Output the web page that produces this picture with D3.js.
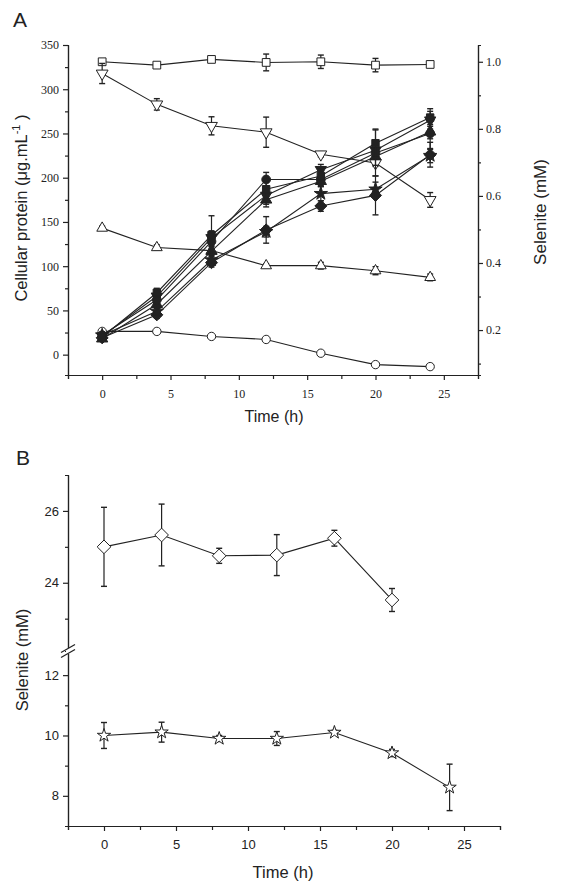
<!DOCTYPE html>
<html><head><meta charset="utf-8">
<script src="https://cdn.jsdelivr.net/npm/d3@7"></script>
<style>body{margin:0;background:#fff}svg{display:block}</style>
</head><body><svg id="c" width="567" height="883"></svg>
<script>
// ---------- DATA ----------
const timesA = [0, 4, 8, 12, 16, 20, 24];
// Selenite (mM), right axis, open symbols
const selSquare = [1.0, 0.99, 1.007, 0.998, 1.0, 0.99, 0.992];
const selSquareErr = [0.008, 0.005, 0.004, 0.025, 0.02, 0.02, 0.006];
const selDownTri = [0.965, 0.873, 0.809, 0.79, 0.724, 0.698, 0.588];
const selDownTriErr = [0.03, 0.017, 0.027, 0.045, 0.008, 0.01, 0.022];
const selUpTri = [0.504, 0.446, 0.437, 0.392, 0.392, 0.377, 0.357];
const selUpTriErr = [0.006, 0.008, 0.005, 0.006, 0.01, 0.012, 0.01];
const selCircle = [0.196, 0.196, 0.181, 0.172, 0.131, 0.097, 0.091];
const selCircleErr = [0.004, 0.004, 0.004, 0.004, 0.004, 0.004, 0.003];
// Cellular protein (ug/mL), left axis, filled symbols
const protSquare = [20, 70, 135, 187, 202, 239, 268];
const protSquareErr = [3, 5, 22, 8, 8, 16, 10];
const protDownTri = [21, 66, 132, 180, 209, 231, 265];
const protDownTriErr = [3, 6, 8, 10, 6, 8, 10];
const protUpTri = [18, 57, 117, 175, 196, 224, 252];
const protUpTriErr = [3, 5, 6, 8, 6, 10, 8];
const protCircle = [22, 62, 128, 198, 198, 228, 250];
const protCircleErr = [3, 5, 6, 8, 7, 26, 18];
const protDiamond = [19, 45, 104, 141, 168, 180, 226];
const protDiamondErr = [3, 4, 5, 15, 6, 22, 14];
const protStar = [22, 49, 107, 139, 182, 187, 225];
const protStarErr = [3, 4, 5, 6, 8, 8, 8];
// Panel B
const timesB = [0, 4, 8, 12, 16, 20, 24];
const selHighDiamond = [25.0, 25.33, 24.75, 24.77, 25.24, 23.52];
const selHighDiamondErr = [1.1, 0.86, 0.21, 0.57, 0.22, 0.32];
const selMidStar = [10.0, 10.11, 9.9, 9.9, 10.1, 9.42, 8.28];
const selMidStarErr = [0.43, 0.33, 0.1, 0.23, 0.07, 0.12, 0.77];
// tick labels
const xTicks = [0, 5, 10, 15, 20, 25];
const yLeftTicks = [0, 50, 100, 150, 200, 250, 300, 350];
const yRightTicks = [0.2, 0.4, 0.6, 0.8, 1.0];
const yBUpperTicks = [24, 26];
const yBLowerTicks = [8, 10, 12];

// ---------- DRAW ----------
const svg = d3.select('#c');
const ink = '#222';
const SANS = 'Liberation Sans, Arial, sans-serif';
const SERIF = 'Liberation Serif, Times New Roman, serif';

function symbolPath(type, size) {
  if (type === 'diamond') {
    const h = Math.sqrt(size) * 0.72;
    return `M0,${-h}L${h},0L0,${h}L${-h},0Z`;
  }
  const map = {square: d3.symbolSquare, circle: d3.symbolCircle, up: d3.symbolTriangle,
    down: d3.symbolTriangle, star: d3.symbolStar};
  return d3.symbol().type(map[type]).size(size)();
}

function drawSeries(g, x, y, times, vals, errs, type, filled, size) {
  const pts = vals.map((v, i) => ({t: times[i], v, e: errs[i]}));
  g.append('path').datum(pts)
    .attr('d', d3.line().x(d => x(d.t)).y(d => y(d.v)))
    .attr('fill', 'none').attr('stroke', ink).attr('stroke-width', 1.1);
  const eb = g.append('g');
  pts.forEach(d => {
    const y1 = y(d.v + d.e), y2 = y(d.v - d.e), cx = x(d.t);
    eb.append('line').attr('x1', cx).attr('x2', cx).attr('y1', y1).attr('y2', y2)
      .attr('stroke', ink).attr('stroke-width', 1.2);
    [y1, y2].forEach(yy => eb.append('line').attr('x1', cx - 3).attr('x2', cx + 3)
      .attr('y1', yy).attr('y2', yy).attr('stroke', ink).attr('stroke-width', 1.4));
  });
  g.append('g').selectAll('path').data(pts).join('path')
    .attr('d', symbolPath(type, size))
    .attr('transform', d => `translate(${x(d.t)},${y(d.v)})` + (type === 'down' ? ' rotate(180)' : ''))
    .attr('fill', filled ? ink : '#fff').attr('stroke', ink).attr('stroke-width', 1);
}

// ===== Panel A =====
const A = {l: 68, r: 478, t: 45, b: 375};
const xA = d3.scaleLinear().domain([-2.5, 27.5]).range([A.l, A.r]);
const yL = d3.scaleLinear().domain([-23, 350]).range([A.b, A.t]);
const yR = d3.scaleLinear().domain([0.066, 1.05]).range([A.b, A.t]);

const gA = svg.append('g');
const axA = gA.append('g').attr('transform', `translate(0,${A.b})`)
  .call(d3.axisBottom(xA).tickValues(xTicks).tickSize(5).tickSizeOuter(0).tickPadding(9).tickFormat(d3.format('d')));
axA.append('g').call(d3.axisBottom(xA).tickValues(d3.range(-2.5, 28, 2.5).filter(v => v % 5 !== 0)).tickSize(4).tickFormat(''));
const alA = gA.append('g').attr('transform', `translate(${A.l},0)`)
  .call(d3.axisLeft(yL).tickValues(yLeftTicks).tickSize(5).tickSizeOuter(0).tickPadding(4).tickFormat(d3.format('d')));
alA.append('g').call(d3.axisLeft(yL).tickValues(d3.range(25, 350, 50)).tickSize(3).tickFormat(''));
const arA = gA.append('g').attr('transform', `translate(${A.r},0)`)
  .call(d3.axisRight(yR).tickValues(yRightTicks).tickSize(5).tickSizeOuter(0).tickPadding(3).tickFormat(d3.format('.1f')));
arA.append('g').call(d3.axisRight(yR).tickValues([0.1, 0.3, 0.5, 0.7, 0.9]).tickSize(3).tickFormat(''));
[axA, alA, arA].forEach(a => {
  a.selectAll('path,line').attr('stroke', ink).attr('stroke-width', 1.2);
  a.selectAll('text').attr('font-family', SERIF).attr('font-size', 12).attr('fill', ink);
});

drawSeries(gA, xA, yR, timesA, selSquare, selSquareErr, 'square', false, 60);
drawSeries(gA, xA, yR, timesA, selDownTri, selDownTriErr, 'down', false, 60);
drawSeries(gA, xA, yR, timesA, selUpTri, selUpTriErr, 'up', false, 50);
drawSeries(gA, xA, yR, timesA, selCircle, selCircleErr, 'circle', false, 55);
drawSeries(gA, xA, yL, timesA, protDiamond, protDiamondErr, 'diamond', true, 70);
drawSeries(gA, xA, yL, timesA, protStar, protStarErr, 'star', true, 55);
drawSeries(gA, xA, yL, timesA, protUpTri, protUpTriErr, 'up', true, 55);
drawSeries(gA, xA, yL, timesA, protDownTri, protDownTriErr, 'down', true, 55);
drawSeries(gA, xA, yL, timesA, protCircle, protCircleErr, 'circle', true, 60);
drawSeries(gA, xA, yL, timesA, protSquare, protSquareErr, 'square', true, 55);

svg.append('text').attr('x', 13).attr('y', 27).text('A')
  .attr('font-family', SANS).attr('font-size', 21).attr('fill', ink);
svg.append('text').attr('x', 274).attr('y', 422).attr('text-anchor', 'middle')
  .attr('font-family', SANS).attr('font-size', 16).attr('fill', ink).text('Time (h)');
const ylab = svg.append('text').attr('transform', 'translate(27,208) rotate(-90)')
  .attr('text-anchor', 'middle').attr('font-family', SANS).attr('font-size', 16.5).attr('fill', ink);
ylab.append('tspan').text('Cellular protein (μg.mL');
ylab.append('tspan').attr('dy', -7).attr('font-size', 11).text('-1');
ylab.append('tspan').attr('dy', 7).text(' )');
svg.append('text').attr('transform', 'translate(546,212) rotate(-90)').attr('text-anchor', 'middle')
  .attr('font-family', SANS).attr('font-size', 17).attr('fill', ink).text('Selenite (mM)');

// ===== Panel B =====
const B = {l: 68, r: 500, t: 475, b: 826, brk: 651};
const xB = d3.scaleLinear().domain([-2.5, 27.5]).range([B.l, B.r]);
const yBU = d3.scaleLinear().domain([22.1, 27]).range([B.brk, B.t]);
const yBL = d3.scaleLinear().domain([7, 12.8]).range([B.b, B.brk]);
const gB = svg.append('g');
const axB = gB.append('g').attr('transform', `translate(0,${B.b})`)
  .call(d3.axisBottom(xB).tickValues(xTicks).tickSize(5).tickSizeOuter(0).tickPadding(9).tickFormat(d3.format('d')));
axB.append('g').call(d3.axisBottom(xB).tickValues(d3.range(-2.5, 28, 2.5).filter(v => v % 5 !== 0)).tickSize(4).tickFormat(''));
const auB = gB.append('g').attr('transform', `translate(${B.l},0)`)
  .call(d3.axisLeft(yBU).tickValues(yBUpperTicks).tickSize(5).tickSizeOuter(0).tickPadding(4).tickFormat(d3.format('d')));
auB.append('g').call(d3.axisLeft(yBU).tickValues([23, 25]).tickSize(3).tickFormat(''));
const aLB = gB.append('g').attr('transform', `translate(${B.l},0)`)
  .call(d3.axisLeft(yBL).tickValues(yBLowerTicks).tickSize(5).tickSizeOuter(0).tickPadding(4).tickFormat(d3.format('d')));
aLB.append('g').call(d3.axisLeft(yBL).tickValues([9, 11]).tickSize(3).tickFormat(''));
[axB, auB, aLB].forEach(a => {
  a.selectAll('path,line').attr('stroke', ink).attr('stroke-width', 1.2);
  a.selectAll('text').attr('font-family', SANS).attr('font-size', 13).attr('fill', ink);
});
gB.append('rect').attr('x', B.l - 2).attr('y', B.brk - 3).attr('width', 4).attr('height', 6).attr('fill', '#fff');
[-2.5, 2.5].forEach(o => gB.append('line')
  .attr('x1', B.l - 7).attr('y1', B.brk + o + 4).attr('x2', B.l + 7).attr('y2', B.brk + o - 4)
  .attr('stroke', ink).attr('stroke-width', 1.2));

drawSeries(gB, xB, yBU, timesB, selHighDiamond, selHighDiamondErr, 'diamond', false, 90);
drawSeries(gB, xB, yBL, timesB, selMidStar, selMidStarErr, 'star', false, 55);

svg.append('text').attr('x', 16).attr('y', 465).text('B')
  .attr('font-family', SANS).attr('font-size', 21).attr('fill', ink);
svg.append('text').attr('x', 283).attr('y', 878).attr('text-anchor', 'middle')
  .attr('font-family', SANS).attr('font-size', 16.5).attr('fill', ink).text('Time (h)');
svg.append('text').attr('transform', 'translate(28,660) rotate(-90)').attr('text-anchor', 'middle')
  .attr('font-family', SANS).attr('font-size', 16.5).attr('fill', ink).text('Selenite (mM)');
</script></body></html>
